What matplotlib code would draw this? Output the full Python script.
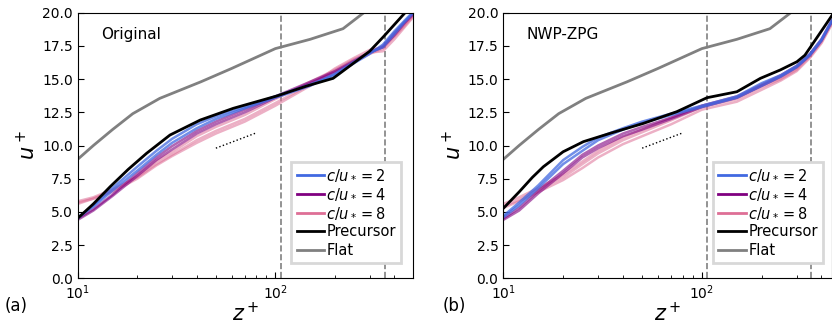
import numpy as np
import matplotlib
matplotlib.use('Agg')
from matplotlib import pyplot as plt

plt.rcParams['font.family'] = ['DejaVu Sans']
plt.rcParams['mathtext.fontset'] = 'dejavusans'

# 光滑壁面 (Flat)
z_flat = [10, 12, 15, 19, 26, 42, 60, 100, 150, 220, 280, 320]
u_flat = [8.96, 10.0, 11.2, 12.4, 13.55, 14.8, 15.8, 17.3, 18.0, 18.8, 20.0, 21.0]

# 波浪算例的 z+ 网格
z_case = [10, 12, 15, 20, 25, 30, 40, 50, 70, 100, 150, 200, 250, 300, 350, 400, 450, 500]

# (a) Original
z_pre_a = [10, 12, 14.6, 18, 22.3, 29.3, 41.7, 61.2, 101.6, 144, 196, 248, 300, 352, 453, 520]
u_pre_a = [4.52, 5.6, 6.9, 8.2, 9.41, 10.79, 11.92, 12.8, 13.73, 14.48, 15.06, 16.19, 17.1, 18.19, 20.0, 21.2]
u_c2_a = [
    [4.5, 5.5, 6.8, 8.4, 9.6, 10.5, 11.6, 12.2, 12.9, 13.7, 14.6, 15.3, 16.2, 16.9, 17.6, 18.6, 19.4, 20.1],
    [4.6, 5.4, 6.6, 8.1, 9.3, 10.2, 11.3, 12.0, 12.8, 13.6, 14.5, 15.4, 16.3, 17.0, 17.4, 18.4, 19.3, 20.0],
]
u_c4_a = [
    [4.4, 5.1, 6.2, 7.7, 8.9, 9.7, 10.9, 11.6, 12.5, 13.6, 14.7, 15.5, 16.3, 17.0, 17.5, 18.5, 19.3, 20.0],
    [4.5, 5.2, 6.3, 7.9, 9.1, 9.95, 11.1, 11.8, 12.7, 13.7, 14.8, 15.6, 16.4, 17.0, 17.4, 18.3, 19.2, 19.9],
]
u_c8_a = [
    [5.8, 6.1, 6.7, 7.6, 8.6, 9.3, 10.4, 11.1, 12.0, 13.2, 14.6, 15.6, 16.3, 16.9, 17.3, 18.3, 19.1, 19.8],
    [5.7, 6.0, 6.6, 7.7, 8.8, 9.5, 10.7, 11.4, 12.3, 13.5, 14.8, 15.7, 16.5, 17.0, 17.1, 18.0, 18.9, 19.7],
    [5.6, 6.0, 6.5, 7.5, 8.5, 9.2, 10.2, 10.9, 11.8, 13.0, 14.5, 15.8, 16.6, 17.2, 17.4, 18.2, 19.0, 19.8],
]

# (b) NWP-ZPG
z_pre_b = [10, 12, 14, 15.9, 20, 25.3, 34.5, 50.8, 74.8, 106, 150, 197, 248, 301, 330, 358, 452, 500]
u_pre_b = [5.27, 6.5, 7.6, 8.4, 9.53, 10.29, 10.92, 11.67, 12.55, 13.6, 14.05, 15.06, 15.69, 16.31, 16.8, 17.57, 19.8, 20.8]
u_c2_b = [
    [4.7, 5.7, 7.0, 8.9, 9.9, 10.6, 11.3, 11.8, 12.4, 13.0, 13.7, 14.7, 15.3, 16.0, 16.9, 18.0, 19.4, 20.4],
    [4.6, 5.5, 6.8, 8.6, 9.6, 10.4, 11.2, 11.7, 12.3, 12.9, 13.6, 14.5, 15.2, 15.9, 16.8, 17.9, 19.3, 20.3],
]
u_c4_b = [
    [4.4, 5.1, 6.4, 7.9, 9.1, 9.8, 10.7, 11.2, 12.0, 12.9, 13.6, 14.5, 15.2, 15.9, 16.8, 17.9, 19.3, 20.3],
    [4.5, 5.3, 6.6, 8.1, 9.3, 10.0, 10.9, 11.4, 12.1, 13.0, 13.7, 14.6, 15.3, 16.0, 16.9, 18.0, 19.4, 20.4],
]
u_c8_b = [
    [5.4, 5.9, 6.7, 7.6, 8.6, 9.4, 10.4, 11.0, 11.9, 12.9, 13.5, 14.4, 15.0, 15.7, 16.7, 17.8, 19.2, 20.2],
    [5.6, 6.1, 6.8, 7.8, 8.8, 9.6, 10.6, 11.2, 12.1, 13.0, 13.6, 14.5, 15.1, 15.8, 16.8, 17.9, 19.3, 20.3],
    [5.3, 5.8, 6.5, 7.4, 8.3, 9.1, 10.1, 10.7, 11.6, 12.7, 13.3, 14.2, 14.9, 15.6, 16.6, 17.7, 19.1, 20.1],
]

# 对数律参考线 和 竖直虚线
z_ref = [50, 80]
u_ref = [9.8, 10.95]
z_vlines_a = [107, 359]
z_vlines_b = [106, 356]

titles = ['Original', 'NWP-ZPG']
panel_tags = ['(a)', '(b)']
xmax = [499, 452]
leg_x = [0.985, 0.994]

c_blue = '#4169E1'
c_purple = '#800080'
c_pink = '#DE6F96'

fig = plt.figure(figsize=(8.32, 3.27), dpi=100)
ax_a = fig.add_axes([0.0934, 0.149, 0.4034, 0.812])
ax_b = fig.add_axes([0.605, 0.149, 0.395, 0.812])

panels = [
    (ax_a, z_pre_a, u_pre_a, u_c2_a, u_c4_a, u_c8_a, z_vlines_a),
    (ax_b, z_pre_b, u_pre_b, u_c2_b, u_c4_b, u_c8_b, z_vlines_b),
]

for i, (ax, zp, up, c2, c4, c8, vl) in enumerate(panels):
    for zv in vl:
        ax.axvline(zv, color='gray', ls='--', lw=1.2, zorder=1)

    for k, u in enumerate(c8):
        ax.plot(z_case, u, color=c_pink, lw=1.8, alpha=0.55, label=r'$c/u_* = 8$' if k == 0 else None)
    for k, u in enumerate(c4):
        ax.plot(z_case, u, color=c_purple, lw=1.8, alpha=0.6, label=r'$c/u_* = 4$' if k == 0 else None)
    for k, u in enumerate(c2):
        ax.plot(z_case, u, color=c_blue, lw=1.8, alpha=0.75, label=r'$c/u_* = 2$' if k == 0 else None)

    ax.plot(zp, up, color='black', lw=2, label='Precursor')
    ax.plot(z_flat, u_flat, color='gray', lw=2, label='Flat')
    ax.plot(z_ref, u_ref, color='black', ls=':', lw=1)

    ax.set_xscale('log')
    ax.set_xlim(10, xmax[i])
    ax.set_ylim(0, 20)
    ax.set_yticks(np.arange(0, 20.1, 2.5))
    ax.tick_params(which='both', direction='in', labelsize=10)
    ax.tick_params(which='major', length=4)
    ax.tick_params(which='minor', length=2.5)
    ax.set_xlabel(r'$z^+$', fontsize=15, labelpad=0)
    ax.set_ylabel(r'$u^+$', fontsize=15, labelpad=2)
    ax.text(0.07, 0.945, titles[i], transform=ax.transAxes, fontsize=11, va='top')

    # 图例顺序: 2, 4, 8, Precursor, Flat
    h, l = ax.get_legend_handles_labels()
    order = [2, 1, 0, 3, 4]
    leg = ax.legend([h[j] for j in order], [l[j] for j in order], loc='lower right',
                    fontsize=10.5, fancybox=False, framealpha=1, handlelength=1.9,
                    handletextpad=0.15, labelspacing=0.25, borderpad=0.35,
                    bbox_to_anchor=(leg_x[i], 0.03))
    leg.get_frame().set_edgecolor('#d8d8d8')
    leg.get_frame().set_linewidth(2)
    for lh in leg.get_lines():
        lh.set_alpha(1)
        lh.set_linewidth(2)

fig.text(0.005, 0.05, panel_tags[0], fontsize=12)
fig.text(0.532, 0.05, panel_tags[1], fontsize=12)

plt.savefig('out.png', dpi=100)
